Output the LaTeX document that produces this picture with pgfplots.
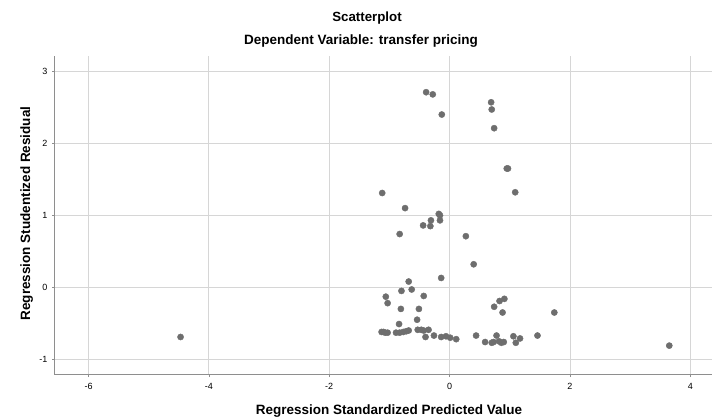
\documentclass[border=0pt]{standalone}
\usepackage{pgfplots}
\pgfplotsset{compat=1.18}
\usepackage{fontspec}
\setmainfont{Liberation Sans}
\definecolor{dotc}{HTML}{6E6E6E}
\definecolor{gridc}{HTML}{D6D6D6}
\definecolor{axc}{HTML}{8E8E8E}
\begin{document}
\begin{tikzpicture}[x=1pt,y=1pt]
\useasboundingbox (0,0) rectangle (712,416);
\begin{axis}[
  at={(54.5pt,41.5pt)}, anchor=south west,
  scale only axis, width=657.5pt, height=318.5pt,
  xmin=-6.565, xmax=4.36, ymin=-1.211, ymax=3.213,
  axis x line*=bottom, axis y line*=left,
  axis line style={axc, line width=0.9pt, -},
  xtick={-6,-4,-2,0,2,4}, xticklabels={-6,-4,-2,0,2,4},
  ytick={-1,0,1,2,3}, yticklabels={-1,0,1,2,3},
  tick align=outside, major tick length=2.5pt,
  tick style={axc, line width=0.6pt},
  grid=major, major grid style={gridc, line width=0.9pt},
  ticklabel style={font=\fontsize{9}{10}\selectfont, text=black},
  xticklabel style={yshift=-3pt},
  yticklabel style={xshift=-1pt},
  clip=false,
]
\addplot[only marks, color=dotc, mark=*, mark size=3.1pt, mark options={solid, fill=dotc, draw=dotc, line width=0.4pt}] coordinates {
(-4.47,-0.69) (3.65,-0.81) (1.74,-0.35)
(-0.39,2.71) (-0.28,2.68) (-0.13,2.40) (0.69,2.57) (0.70,2.47) (0.74,2.21)
(0.95,1.65) (0.97,1.65) (1.09,1.32) (-1.12,1.31) (-0.74,1.10)
(-0.18,1.02) (-0.16,1.00) (-0.31,0.93) (-0.16,0.93) (-0.44,0.86) (-0.32,0.85)
(-0.83,0.74) (0.27,0.71) (0.40,0.32) (-0.14,0.13) (-0.68,0.08)
(-0.80,-0.05) (-0.63,-0.03) (-1.06,-0.13) (-1.03,-0.22) (-0.43,-0.12)
(-0.81,-0.30) (-0.51,-0.30) (-0.84,-0.51) (-0.54,-0.45)
(-1.13,-0.62) (-1.10,-0.62) (-1.07,-0.63) (-1.03,-0.63) (-0.89,-0.63) (-0.83,-0.63)
(-0.77,-0.62) (-0.72,-0.61) (-0.68,-0.60) (-0.53,-0.59) (-0.47,-0.59) (-0.43,-0.60)
(-0.35,-0.59) (-0.40,-0.69) (-0.26,-0.67) (-0.14,-0.69) (-0.06,-0.68) (0.01,-0.70)
(0.11,-0.72) (0.44,-0.67) (0.59,-0.76) (0.70,-0.77) (0.73,-0.76) (0.78,-0.67)
(0.82,-0.75) (0.86,-0.77) (0.90,-0.76) (0.74,-0.27) (0.83,-0.19) (0.91,-0.16)
(0.88,-0.35) (1.06,-0.68) (1.10,-0.77) (1.17,-0.71) (1.46,-0.67)
};
\end{axis}
\node[anchor=base, font=\bfseries\fontsize{13.3}{15}\selectfont] at (367,416-22) {Scatterplot};
\node[anchor=base, font=\bfseries\fontsize{13.5}{15}\selectfont] at (361,416-45) {Dependent Variable: transfer pricing};
\node[anchor=base, font=\bfseries\fontsize{13.5}{15}\selectfont] at (389,416-414) {Regression Standardized Predicted Value};
\node[anchor=base, rotate=90, font=\bfseries\fontsize{13.5}{15}\selectfont] at (30,416-213.5) {Regression Studentized Residual};
\end{tikzpicture}
\end{document}
